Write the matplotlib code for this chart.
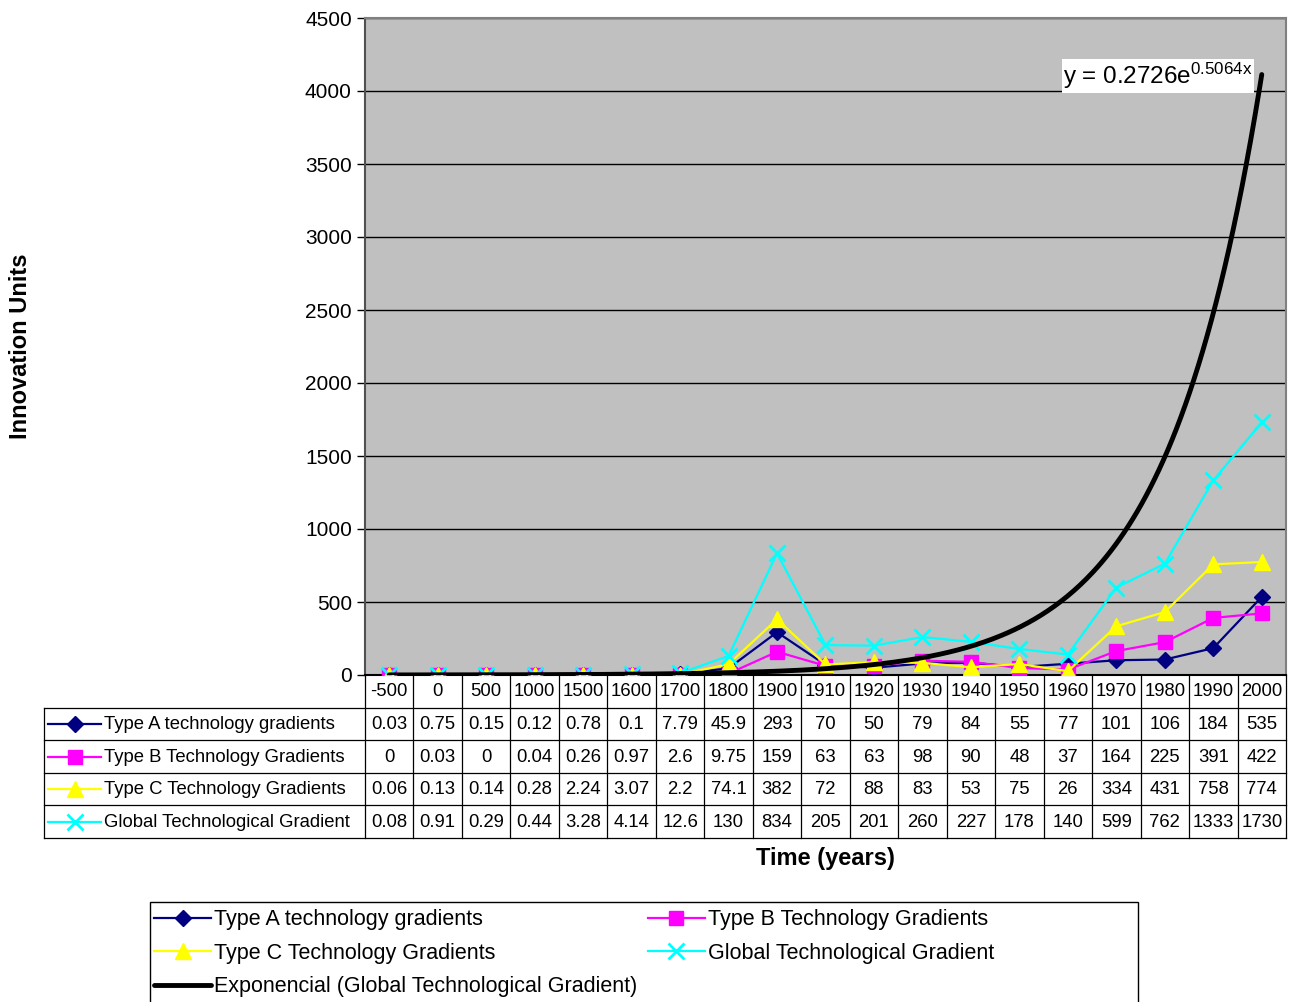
import numpy as np
import matplotlib
matplotlib.use("Agg")
import matplotlib.pyplot as plt
from matplotlib.patches import Rectangle

plt.rcParams['font.family'] = ['Liberation Sans', 'DejaVu Sans']
plt.rcParams['mathtext.fontset'] = 'custom'
plt.rcParams['mathtext.rm'] = 'Liberation Sans'
plt.rcParams['mathtext.it'] = 'Liberation Sans'

years = ["-500", "0", "500", "1000", "1500", "1600", "1700", "1800", "1900", "1910",
         "1920", "1930", "1940", "1950", "1960", "1970", "1980", "1990", "2000"]
type_a = [0.03, 0.75, 0.15, 0.12, 0.78, 0.1, 7.79, 45.9, 293, 70, 50, 79, 84, 55, 77, 101, 106, 184, 535]
type_b = [0, 0.03, 0, 0.04, 0.26, 0.97, 2.6, 9.75, 159, 63, 63, 98, 90, 48, 37, 164, 225, 391, 422]
type_c = [0.06, 0.13, 0.14, 0.28, 2.24, 3.07, 2.2, 74.1, 382, 72, 88, 83, 53, 75, 26, 334, 431, 758, 774]
global_g = [0.08, 0.91, 0.29, 0.44, 3.28, 4.14, 12.6, 130, 834, 205, 201, 260, 227, 178, 140, 599, 762, 1333, 1730]
table_text = [
    ["0.03", "0.75", "0.15", "0.12", "0.78", "0.1", "7.79", "45.9", "293", "70", "50", "79", "84", "55", "77", "101", "106", "184", "535"],
    ["0", "0.03", "0", "0.04", "0.26", "0.97", "2.6", "9.75", "159", "63", "63", "98", "90", "48", "37", "164", "225", "391", "422"],
    ["0.06", "0.13", "0.14", "0.28", "2.24", "3.07", "2.2", "74.1", "382", "72", "88", "83", "53", "75", "26", "334", "431", "758", "774"],
    ["0.08", "0.91", "0.29", "0.44", "3.28", "4.14", "12.6", "130", "834", "205", "201", "260", "227", "178", "140", "599", "762", "1333", "1730"],
]
trend_a = 0.2726
trend_b = 0.5064

series = [
    ("Type A technology gradients", type_a, "#000080", "D", 8),
    ("Type B Technology Gradients", type_b, "#FF00FF", "s", 10),
    ("Type C Technology Gradients", type_c, "#FFFF00", "^", 11),
    ("Global Technological Gradient", global_g, "#00FFFF", "x", 11),
]

W, H = 1294, 1002
fig = plt.figure(figsize=(W / 100, H / 100), dpi=100)

def fx(px):
    return px / W

def fy(py):
    return 1 - py / H

L, R, T, B = 365, 1286, 18, 675
ax = fig.add_axes([fx(L), fy(B), fx(R - L), (B - T) / H])
ax.set_facecolor("#C0C0C0")
n = len(years)
x = np.arange(n)
ax.set_xlim(-0.5, n - 0.5)
ax.set_ylim(0, 4500)
ax.set_yticks(np.arange(0, 4501, 500))
ax.set_xticks([])
for yv in np.arange(500, 4501, 500):
    ax.axhline(yv, color="black", lw=1.0, zorder=1)
ax.tick_params(axis='y', labelsize=15, length=6, width=1, direction='out')
for s in ['top', 'right']:
    ax.spines[s].set_color('#808080')
    ax.spines[s].set_linewidth(1.5)
ax.spines['left'].set_color('#505050')
ax.spines['left'].set_linewidth(1.5)
ax.spines['bottom'].set_color('black')
ax.spines['bottom'].set_linewidth(1.5)

handles = []
for name, vals, col, mk, ms in series:
    h, = ax.plot(x, vals, color=col, marker=mk, markersize=ms, lw=1.6,
                 markeredgewidth=2 if mk == 'x' else 1, markeredgecolor=col, zorder=3)
    handles.append(h)

xt = np.linspace(0, n - 1, 400)
yt = trend_a * np.exp(trend_b * (xt + 1))
th, = ax.plot(xt, yt, color="black", lw=3.5, zorder=4, solid_capstyle='round')

ax.text(13.9, 4103, r"y = 0.2726e$^{\mathrm{0.5064x}}$", fontsize=17.5, ha='left', va='center',
        bbox=dict(facecolor='white', edgecolor='none', pad=1), zorder=5)

ax.set_ylabel("Innovation Units", fontsize=17, fontweight='bold', labelpad=0)
ax.yaxis.set_label_coords((32 - L) / (R - L), 0.5)

# Data table
TL = 44
TB = 838
tax = fig.add_axes([fx(TL), fy(TB), fx(R - TL), (TB - B) / H])
tax.axis('off')
colw = (R - L) / n
left_units = (L - TL) / colw
tax.set_xlim(-0.5 - left_units, n - 0.5)
tax.set_ylim(5, 0)
lc = "black"
lw = 0.9
for i in range(n + 1):
    tax.plot([i - 0.5, i - 0.5], [0, 5], color=lc, lw=lw, clip_on=False)
tax.plot([-0.5 - left_units] * 2, [1, 5], color=lc, lw=lw, clip_on=False)
for r in range(1, 6):
    tax.plot([-0.5 - left_units, n - 0.5], [r, r], color=lc, lw=lw, clip_on=False)
for i, yr in enumerate(years):
    tax.text(i, 0.52, yr, ha='center', va='center', fontsize=13.3)
for r, row in enumerate(table_text):
    for i, t in enumerate(row):
        tax.text(i, r + 1.52, t, ha='center', va='center', fontsize=13.3)
hx0 = -0.5 - left_units + 4 / colw
hx1 = hx0 + 53 / colw
for r, (name, vals, col, mk, ms) in enumerate(series):
    tax.plot([hx0, hx1], [r + 1.5, r + 1.5], color=col, lw=1.6, clip_on=False)
    tax.plot([(hx0 + hx1) / 2], [r + 1.5], color=col, marker=mk, markersize=ms,
             markeredgewidth=2 if mk == 'x' else 1, clip_on=False)
    tax.text(hx1 + 3 / colw, r + 1.52, name, ha='left', va='center', fontsize=13.3)

fig.text(fx((L + R) / 2), fy(858), "Time (years)", fontsize=17, fontweight='bold', ha='center', va='center')

# Bottom legend
fig.patches.append(Rectangle((fx(150), fy(1010)), fx(988), (1010 - 902) / H,
                             transform=fig.transFigure, facecolor='white',
                             edgecolor='black', lw=1.0, zorder=0))
order = [handles[0], handles[2], th, handles[1], handles[3]]
labels = ["Type A technology gradients", "Type C Technology Gradients",
          "Exponencial (Global Technological Gradient)",
          "Type B Technology Gradients", "Global Technological Gradient"]
leg = fig.legend(order, labels, loc='upper left', ncol=2,
                 bbox_to_anchor=(fx(150), fy(905)),
                 fontsize=15.5, frameon=False,
                 handlelength=2.65, handletextpad=0.12, labelspacing=0.58,
                 columnspacing=0.5, borderpad=0.2, borderaxespad=0)

fig.savefig("out.png", dpi=100)
